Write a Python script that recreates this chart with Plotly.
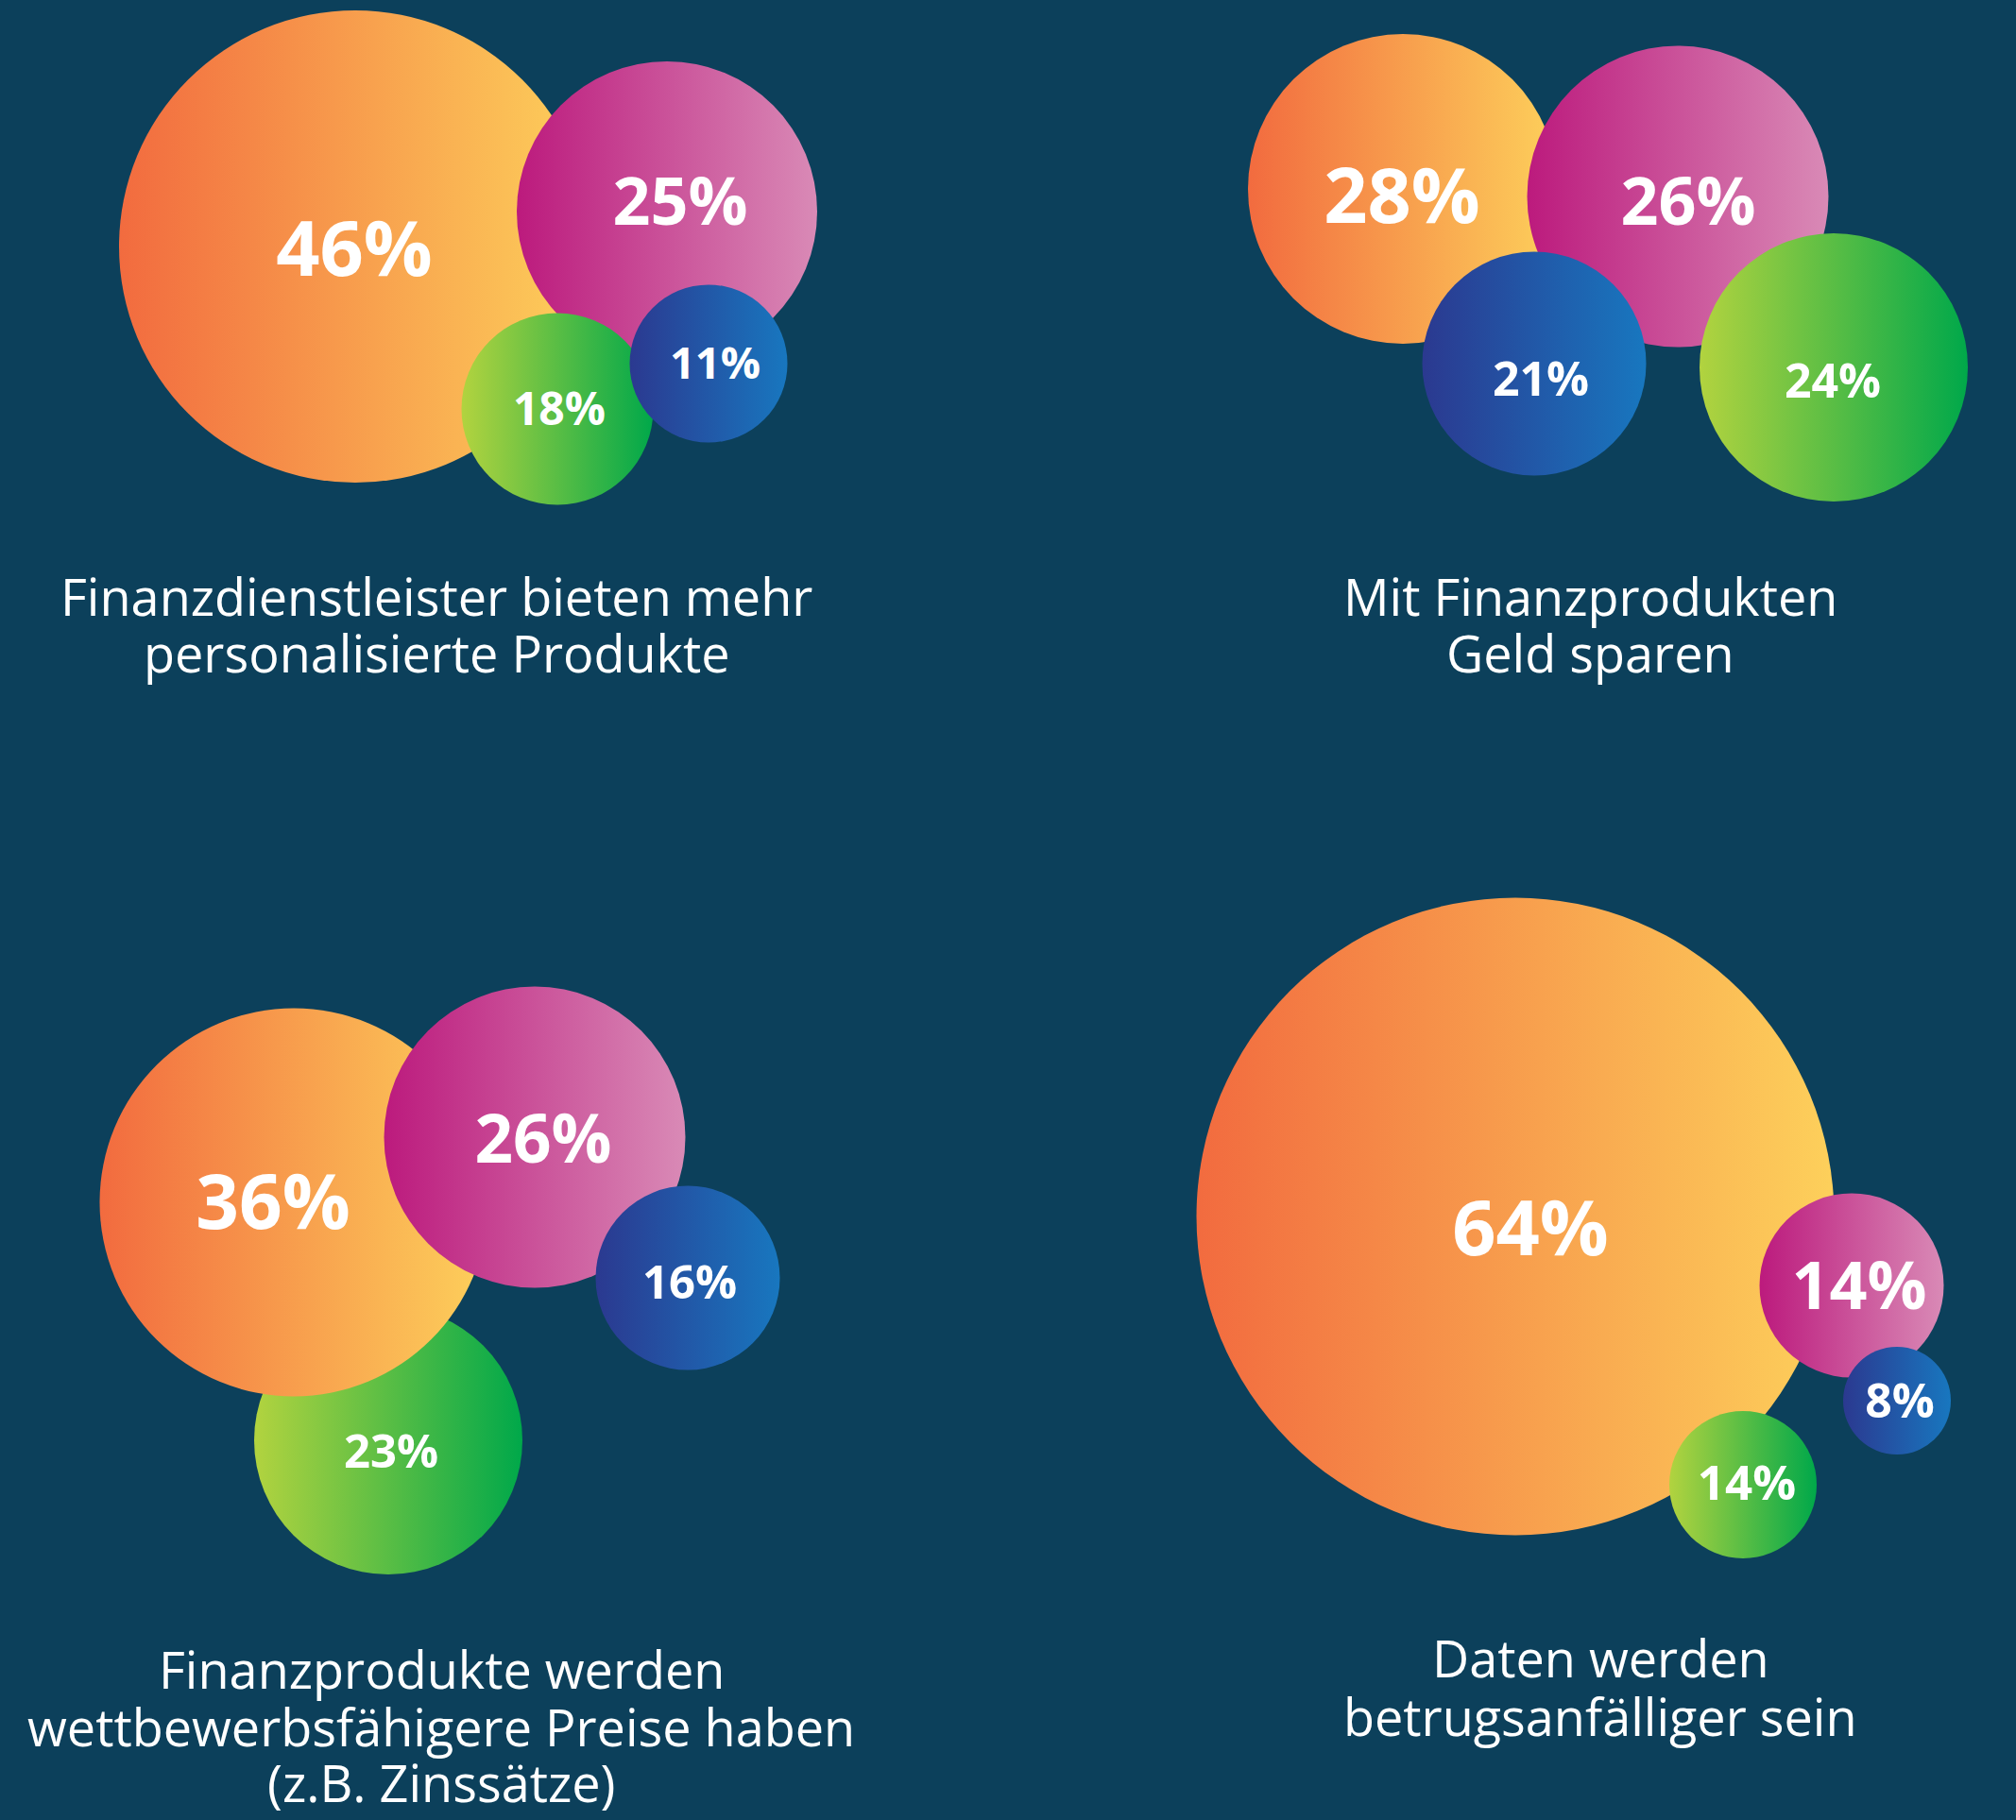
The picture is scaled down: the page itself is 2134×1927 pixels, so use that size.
import plotly.graph_objects as go

# ---------------- data ----------------
statements = [
    ["Finanzdienstleister bieten mehr", "personalisierte Produkte"],
    ["Mit Finanzprodukten", "Geld sparen"],
    ["Finanzprodukte werden", "wettbewerbsfähigere Preise haben", "(z.B. Zinssätze)"],
    ["Daten werden", "betrugsanfälliger sein"],
]
series_names = ["orange", "pink", "blue", "green"]
values_orange = [46, 28, 36, 64]
values_pink = [25, 26, 26, 14]
values_blue = [11, 21, 16, 8]
values_green = [18, 24, 23, 14]

# ---------------- styles / layout ----------------
BG = "#0c405b"
W, H = 2134, 1927
left_col = {"orange": "#f26b3f", "pink": "#bc1a7d", "blue": "#2b3990", "green": "#b2d33f"}
right_col = {"orange": "#fdd05b", "pink": "#d98ab6", "blue": "#1877bf", "green": "#00a84a"}

# bubble centres (px) per group, per series
centres = [
    {"orange": (376, 261), "pink": (706, 224), "blue": (750, 385), "green": (590, 433)},
    {"orange": (1485, 200), "pink": (1776, 208), "blue": (1624, 385), "green": (1941, 389)},
    {"orange": (311, 1273), "pink": (566, 1204), "blue": (728, 1353), "green": (411, 1525)},
    {"orange": (1604, 1288), "pink": (1960, 1361), "blue": (2008, 1483), "green": (1845, 1572)},
]
diameters = [
    {"orange": 500, "pink": 318, "blue": 167, "green": 203},
    {"orange": 328, "pink": 319, "blue": 237, "green": 284},
    {"orange": 411, "pink": 319, "blue": 195, "green": 284},
    {"orange": 675, "pink": 195, "blue": 114, "green": 156},
]
label_pos = [
    {"orange": (375, 264), "pink": (720, 213), "blue": (757, 385), "green": (592, 433)},
    {"orange": (1484, 208), "pink": (1787, 213), "blue": (1631, 401), "green": (1940, 403)},
    {"orange": (289, 1273), "pink": (575, 1206), "blue": (730, 1358), "green": (414, 1537)},
    {"orange": (1620, 1301), "pink": (1968, 1361), "blue": (2011, 1483), "green": (1849, 1570)},
]
label_size = [
    {"orange": 81, "pink": 70, "blue": 47, "green": 48},
    {"orange": 81, "pink": 70, "blue": 50, "green": 50},
    {"orange": 80, "pink": 71, "blue": 49, "green": 49},
    {"orange": 81, "pink": 70, "blue": 50, "green": 51},
]
draw_order = [
    ["orange", "pink", "green", "blue"],
    ["orange", "pink", "blue", "green"],
    ["green", "orange", "pink", "blue"],
    ["orange", "pink", "blue", "green"],
]
TITLE_FS = 54
title_x = [462, 1683, 467, 1694]
title_baselines = [[652, 712], [652, 712], [1788, 1849, 1908], [1776, 1838]]

values = {"orange": values_orange, "pink": values_pink, "blue": values_blue, "green": values_green}

fig = go.Figure()
for g in range(4):
    order = draw_order[g]
    fig.add_trace(go.Scatter(
        x=[centres[g][s][0] for s in order],
        y=[centres[g][s][1] for s in order],
        mode="markers",
        marker=dict(
            size=[diameters[g][s] for s in order],
            color=[left_col[s] for s in order],
            gradient=dict(type="horizontal", color=[right_col[s] for s in order]),
            line=dict(width=0),
            opacity=1,
        ),
        hoverinfo="skip",
        cliponaxis=False,
    ))
    fig.add_trace(go.Scatter(
        x=[label_pos[g][s][0] for s in series_names],
        y=[label_pos[g][s][1] + 0.1 * label_size[g][s] for s in series_names],
        mode="text",
        text=[f"{values[s][g]}%" for s in series_names],
        textposition="middle center",
        textfont=dict(family="Open Sans", size=[label_size[g][s] for s in series_names],
                      color="white", weight=700),
        hoverinfo="skip",
        cliponaxis=False,
    ))
    for line, base in zip(statements[g], title_baselines[g]):
        fig.add_annotation(
            x=title_x[g], y=base - 0.388 * TITLE_FS, xref="x", yref="y",
            text=line, showarrow=False,
            xanchor="center", yanchor="middle", align="center",
            font=dict(family="Open Sans", size=TITLE_FS, color="white"),
        )

fig.update_layout(
    width=W, height=H,
    margin=dict(l=0, r=0, t=0, b=0),
    paper_bgcolor=BG, plot_bgcolor=BG,
    showlegend=False,
    xaxis=dict(range=[0, W], visible=False, fixedrange=True),
    yaxis=dict(range=[H, 0], visible=False, fixedrange=True),
)

fig.write_html("out.html")
